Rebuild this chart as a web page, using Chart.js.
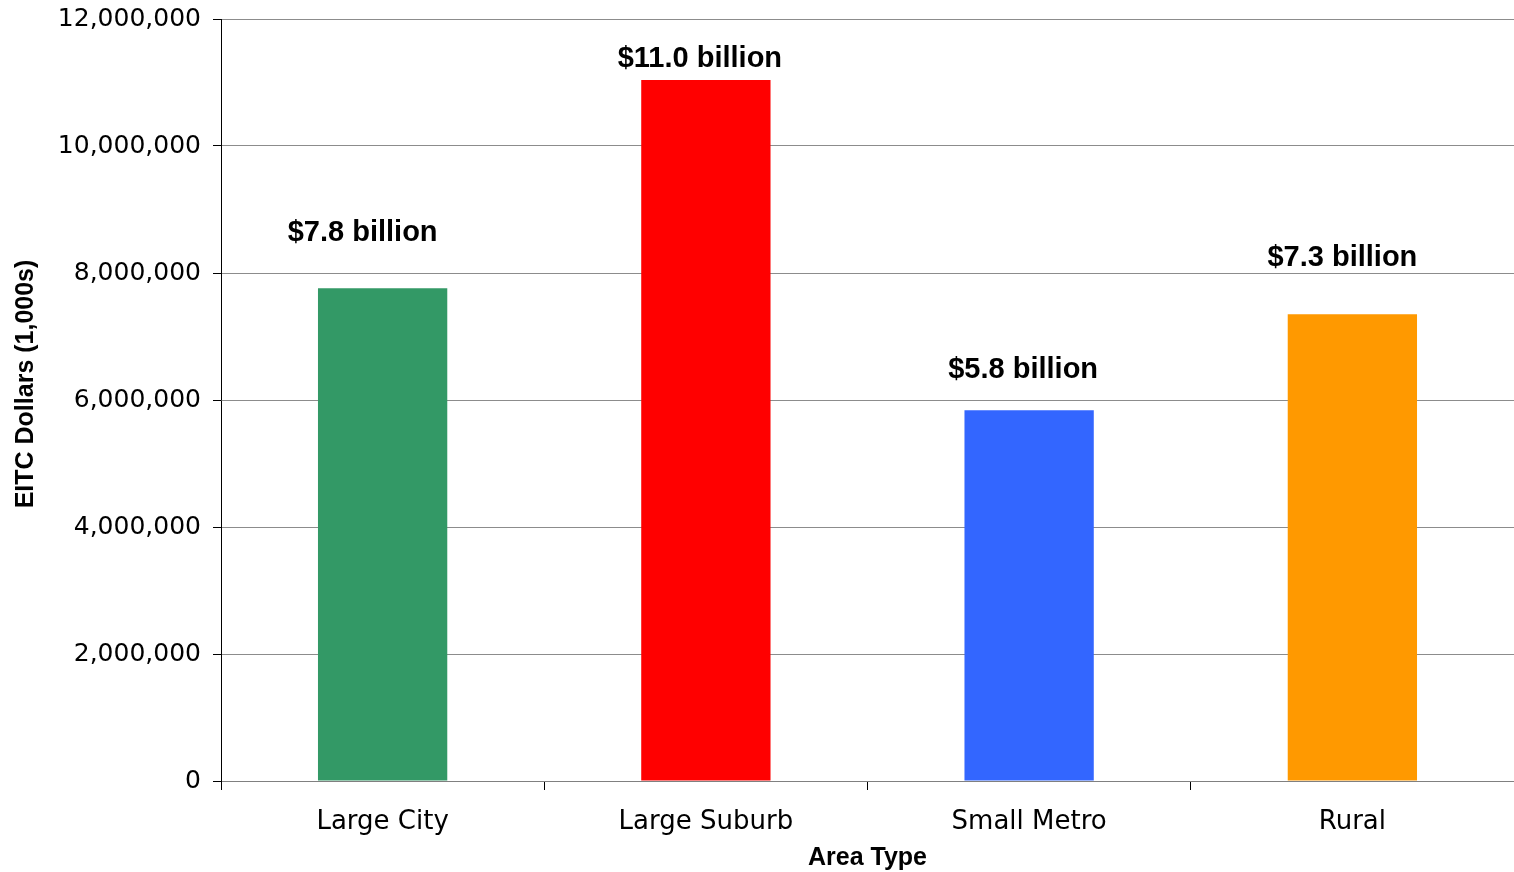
<!DOCTYPE html>
<html lang="en">
<head>
  <meta charset="UTF-8">
  <title>EITC Dollars by Area Type</title>
  <script src="https://cdn.jsdelivr.net/npm/chart.js"></script>
  <style>
    html, body { margin: 0; padding: 0; background: #fff; }
    #wrap { position: absolute; left: 0; top: 0; width: 1514px; height: 872px; }
  </style>
</head>
<body>
  <div id="wrap">
    <canvas id="myChart"></canvas>
  </div>
  <script>
    // data
    const categories = ['Large City', 'Large Suburb', 'Small Metro', 'Rural'];
    const eitcDollars = [7760000, 11040000, 5840000, 7350000];
    const barLabels = ['$7.8 billion', '$11.0 billion', '$5.8 billion', '$7.3 billion'];
    const barColors = ['#339966', '#FF0000', '#3366FF', '#FF9900'];
    // label offsets from the bar top centre (px)
    const labelDx = [-20, -6, -6, -10];
    const labelGap = [55, 21, 40, 56];

    const yTitle = 'EITC Dollars (1,000s)';
    const xTitle = 'Area Type';

    // draws the "$x billion" text above each bar, plus the axis titles
    const labelPlugin = {
      id: 'barLabels',
      afterDatasetsDraw(chart) {
        const ctx = chart.ctx;
        const meta = chart.getDatasetMeta(0);
        const area = chart.chartArea;
        ctx.save();
        ctx.font = 'bold 29px "Liberation Sans", Arial, sans-serif';
        ctx.fillStyle = '#000';
        ctx.textAlign = 'center';
        ctx.textBaseline = 'middle';
        meta.data.forEach((bar, i) => {
          ctx.fillText(barLabels[i], bar.x + labelDx[i], bar.y - labelGap[i]);
        });

        ctx.font = 'bold 25px "Liberation Sans", Arial, sans-serif';
        ctx.fillText(xTitle, (area.left + area.right) / 2, 858);
        ctx.translate(26, 384);
        ctx.rotate(-Math.PI / 2);
        ctx.fillText(yTitle, 0, 0);
        ctx.restore();
      }
    };

    const ctx = document.getElementById('myChart').getContext('2d');
    const chart = new Chart(ctx, {
      type: 'bar',
      data: {
        labels: categories,
        datasets: [{
          data: eitcDollars,
          backgroundColor: barColors,
          borderWidth: 0,
          barPercentage: 0.4,
          categoryPercentage: 1.0
        }]
      },
      options: {
        responsive: true,
        maintainAspectRatio: false,
        animation: false,
        layout: { padding: { top: 19, left: 0, right: 0, bottom: 0 } },
        plugins: {
          legend: { display: false },
          tooltip: { enabled: false }
        },
        scales: {
          x: {
            grid: {
              display: true,
              drawOnChartArea: false,
              tickLength: 9,
              tickColor: '#000'
            },
            border: { color: '#808080', width: 1 },
            ticks: { color: '#000', font: { family: 'DejaVu Sans', size: 26 }, padding: 17 },
            afterFit(scale) { scale.height = 91; }
          },
          y: {
            min: 0,
            max: 12000000,
            grid: {
              color: '#8c8c8c',
              tickLength: 8,
              tickColor: '#000'
            },
            border: { color: '#000', width: 1 },
            ticks: {
              stepSize: 2000000,
              color: '#000',
              font: { family: 'DejaVu Sans', size: 25 },
              padding: 12,
              callback: (v) => v.toLocaleString('en-US')
            },
            afterFit(scale) {
              scale.width = 221;
              scale.paddingTop = 0;
              scale.paddingBottom = 0;
            }
          }
        }
      },
      plugins: [labelPlugin]
    });
  </script>
</body>
</html>
